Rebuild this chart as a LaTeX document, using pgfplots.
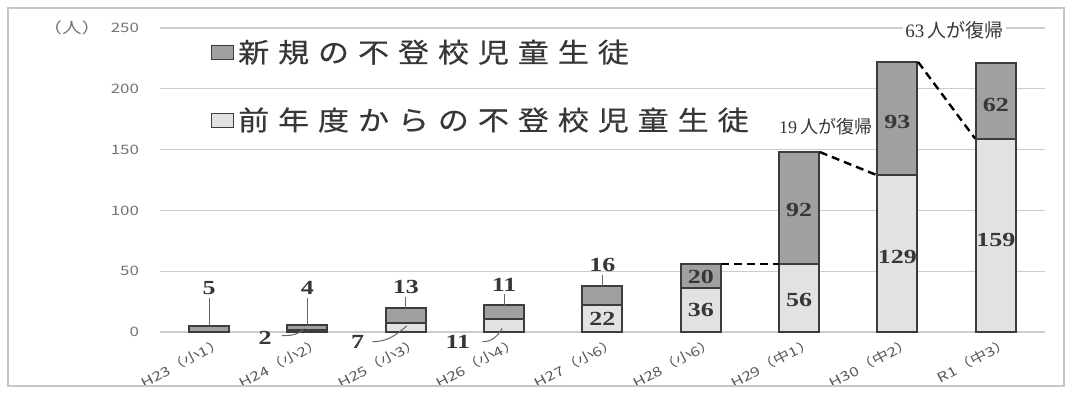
\documentclass[border=0pt]{standalone}
\usepackage{pgfplots}
\pgfplotsset{compat=1.18}
\usepackage{fontspec}
\setmainfont{Liberation Serif}
\newfontfamily\jp{Noto Sans CJK JP}
\newfontfamily\jpwide[FakeStretch=1.15,LetterSpace=33,FakeBold=0.4]{Noto Sans CJK JP}
\newfontfamily\tickf[FakeStretch=1.3]{Noto Sans CJK JP}
\newfontfamily\valf[FakeStretch=1.3]{Liberation Serif}
\definecolor{newc}{RGB}{160,160,160}
\definecolor{prevc}{RGB}{226,226,226}
\definecolor{edgec}{RGB}{60,60,60}
\definecolor{txtc}{RGB}{55,55,55}
\pgfplotsset{frame/.style={at={(0,0)}, anchor=south west,
  scale only axis, width=442.5pt, height=152pt,
  xmin=-0.5, xmax=8.5, ymin=0, ymax=250, clip=false}}
\begin{document}
\begin{tikzpicture}
\begin{axis}[
  frame,
  ybar stacked, bar width=20pt,
  xtick={0,1,2,3,4,5,6,7,8},
  xticklabels={H23（小1）,H24（小2）,H25（小3）,H26（小4）,H27（小6）,H28（小6）,H29（中1）,H30（中2）,R1（中3）},
  ytick={0,50,100,150,200,250},
  ymajorgrids, grid style={gray!40, line width=0.6pt},
  axis line style={draw=none}, major tick length=0pt,
  /pgf/number format/assume math mode=true,
  yticklabel style={font=\tickf\fontsize{6.5}{7}\selectfont, text=black!55, anchor=east, xshift=-7pt},
  xticklabel style={font=\tickf\fontsize{6.5}{7}\selectfont, text=black!65, rotate=28, anchor=north east, inner sep=0pt, yshift=-4pt, xshift=4pt},
  reverse legend,
  legend cell align=left,
  legend style={draw=none, fill=none, at={(axis cs:0.01,244)}, anchor=north west,
    font=\jpwide\fontsize{13.5}{14}\selectfont, text=txtc, row sep=17pt, inner sep=0pt,
    nodes={inner sep=2pt}},
]
\addplot[fill=prevc, draw=edgec, line width=1pt,
  legend image code/.code={\draw[fill=prevc, draw=edgec, line width=0.8pt] (0pt,-3.5pt) rectangle (11pt,3.5pt);}]
  coordinates {(0,0) (1,2) (2,7) (3,11) (4,22) (5,36) (6,56) (7,129) (8,159)};
\addlegendentry{前年度からの不登校児童生徒}
\addplot[fill=newc, draw=edgec, line width=1pt,
  legend image code/.code={\draw[fill=newc, draw=edgec, line width=0.8pt] (0pt,-3.5pt) rectangle (11pt,3.5pt);}]
  coordinates {(0,5) (1,4) (2,13) (3,11) (4,16) (5,20) (6,92) (7,93) (8,62)};
\addlegendentry{新規の不登校児童生徒}
\end{axis}
\begin{axis}[frame, hide axis]
\tikzset{vl/.style={font=\valf\bfseries\fontsize{10}{11}\selectfont, text=txtc, inner sep=0pt}}
\node[vl] at (axis cs:0,36) {5};
\node[vl] at (axis cs:1,36) {4};
\node[vl] at (axis cs:2,37) {13};
\node[vl] at (axis cs:3,39) {11};
\node[vl] at (axis cs:4,55) {16};
\node[vl] at (axis cs:0.57,-5) {2};
\node[vl] at (axis cs:1.51,-8) {7};
\node[vl] at (axis cs:2.53,-8) {11};
\node[vl] at (axis cs:4,11) {22};
\node[vl] at (axis cs:5,45) {20};
\node[vl] at (axis cs:5,18) {36};
\node[vl] at (axis cs:6,100) {92};
\node[vl] at (axis cs:6,26) {56};
\node[vl] at (axis cs:7,173) {93};
\node[vl] at (axis cs:7,62) {129};
\node[vl] at (axis cs:8,187) {62};
\node[vl] at (axis cs:8,76) {159};
\draw[black!60, line width=0.5pt] (axis cs:0,28) -- (axis cs:0,5);
\draw[black!60, line width=0.5pt] (axis cs:1,28) -- (axis cs:1,6);
\draw[black!60, line width=0.5pt] (axis cs:2,29) -- (axis cs:2,20);
\draw[black!60, line width=0.5pt] (axis cs:3,31) -- (axis cs:3,22);
\draw[black!60, line width=0.5pt] (axis cs:4,47) -- (axis cs:4,38);
\draw[black!60, line width=0.5pt] (axis cs:0.74,-3) to[out=0,in=225] (axis cs:0.97,3);
\draw[black!60, line width=0.5pt] (axis cs:1.66,-8) to[out=0,in=220] (axis cs:2.01,5);
\draw[black!60, line width=0.5pt] (axis cs:2.78,-8) to[out=0,in=240] (axis cs:2.98,3);
\draw[black, line width=1.2pt, dash pattern=on 4pt off 2.5pt] (axis cs:5.21,56) -- (axis cs:5.79,56);
\draw[black, line width=1.2pt, dash pattern=on 4pt off 2.5pt] (axis cs:6.21,148) -- (axis cs:6.79,129);
\draw[black, line width=1.2pt, dash pattern=on 4pt off 2.5pt] (axis cs:7.21,222) -- (axis cs:7.79,159);
\node[font=\fontsize{9}{10}\selectfont, text=txtc, fill=white, inner sep=1pt] at (axis cs:6.27,169) {19\,{\jp 人が復帰}};
\node[font=\fontsize{9.5}{10}\selectfont, text=txtc, fill=white, inner sep=1pt] at (axis cs:7.58,248) {63\,{\jp 人が復帰}};
\end{axis}
\node[font=\tickf\fontsize{7.5}{8}\selectfont, text=black!55] at (-44pt,152pt) {（人）};
\draw[gray!45, line width=0.8pt] (-76pt,162pt) rectangle (452pt,-27pt);
\pgfresetboundingbox
\path[use as bounding box] (-80pt,-32.5pt) rectangle (453pt,166pt);
\end{tikzpicture}
\end{document}
